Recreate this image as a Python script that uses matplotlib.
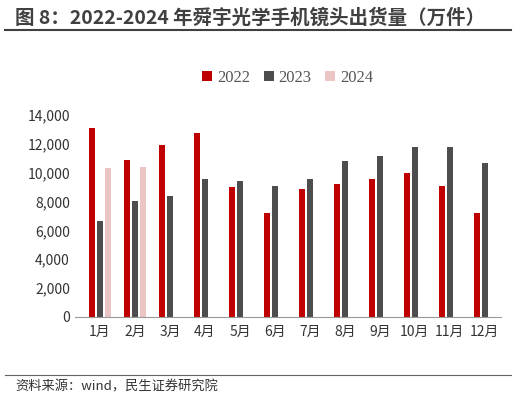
import matplotlib
matplotlib.use("Agg")
import matplotlib.pyplot as plt
import numpy as np

months = ["1月","2月","3月","4月","5月","6月","7月","8月","9月","10月","11月","12月"]
v2022 = [13100, 10850, 11950, 12750, 9000, 7200, 8850, 9200, 9550, 10000, 9100, 7200]
v2023 = [6650, 8050, 8400, 9550, 9400, 9100, 9550, 10800, 11150, 11750, 11750, 10650]
v2024 = [10300, 10400]

plt.rcParams['font.family'] = ['Noto Sans CJK SC', 'DejaVu Sans']
fig = plt.figure(figsize=(5.16, 4.0), dpi=100)
ax = fig.add_axes([0.145, 0.2075, 0.825, 0.505])
x = np.arange(len(months))
w = 0.18
ax.bar(x - 0.22, v2022, w, color='#C00000', label='2022')
ax.bar(x, v2023, w, color='#4D4D4D', label='2023')
ax.bar(np.arange(len(v2024)) + 0.22, v2024, w, color='#EBC4C4', label='2024')
ax.set_ylim(0, 14000)
ax.set_xlim(-0.72, 11.45)
ax.set_yticks(range(0, 14001, 2000))
ax.set_yticklabels([f"{v:,}" for v in range(0, 14001, 2000)], fontsize=10, color='#333333')
ax.set_xticks(x)
ax.set_xticklabels(months, fontsize=10, color='#333333')
for s in ['top', 'right', 'left']:
    ax.spines[s].set_visible(False)
ax.spines['bottom'].set_color('#999999')
ax.tick_params(axis='y', length=0)
ax.tick_params(axis='x', length=0, pad=6)
leg = ax.legend(loc='lower center', bbox_to_anchor=(0.5, 1.07), ncol=3, frameon=False,
                handlelength=0.6, handleheight=0.6, handletextpad=0.3, columnspacing=0.8,
                prop={'family': 'Liberation Serif', 'size': 12})
for t in leg.get_texts():
    t.set_color('#555555')

fig.text(0.03, 0.955, "图 8：2022-2024 年舜宇光学手机镜头出货量（万件）", fontsize=14,
         fontweight='bold', color='#404040', va='center')
fig.add_artist(plt.Line2D([0.01, 0.99], [0.925, 0.925], color='#404040', lw=1.5))
fig.add_artist(plt.Line2D([0.01, 0.99], [0.062, 0.062], color='#666666', lw=0.8))
fig.text(0.03, 0.032, "资料来源：wind，民生证券研究院", fontsize=9.5, color='#333333', va='center')
fig.savefig("out.png", dpi=100)
